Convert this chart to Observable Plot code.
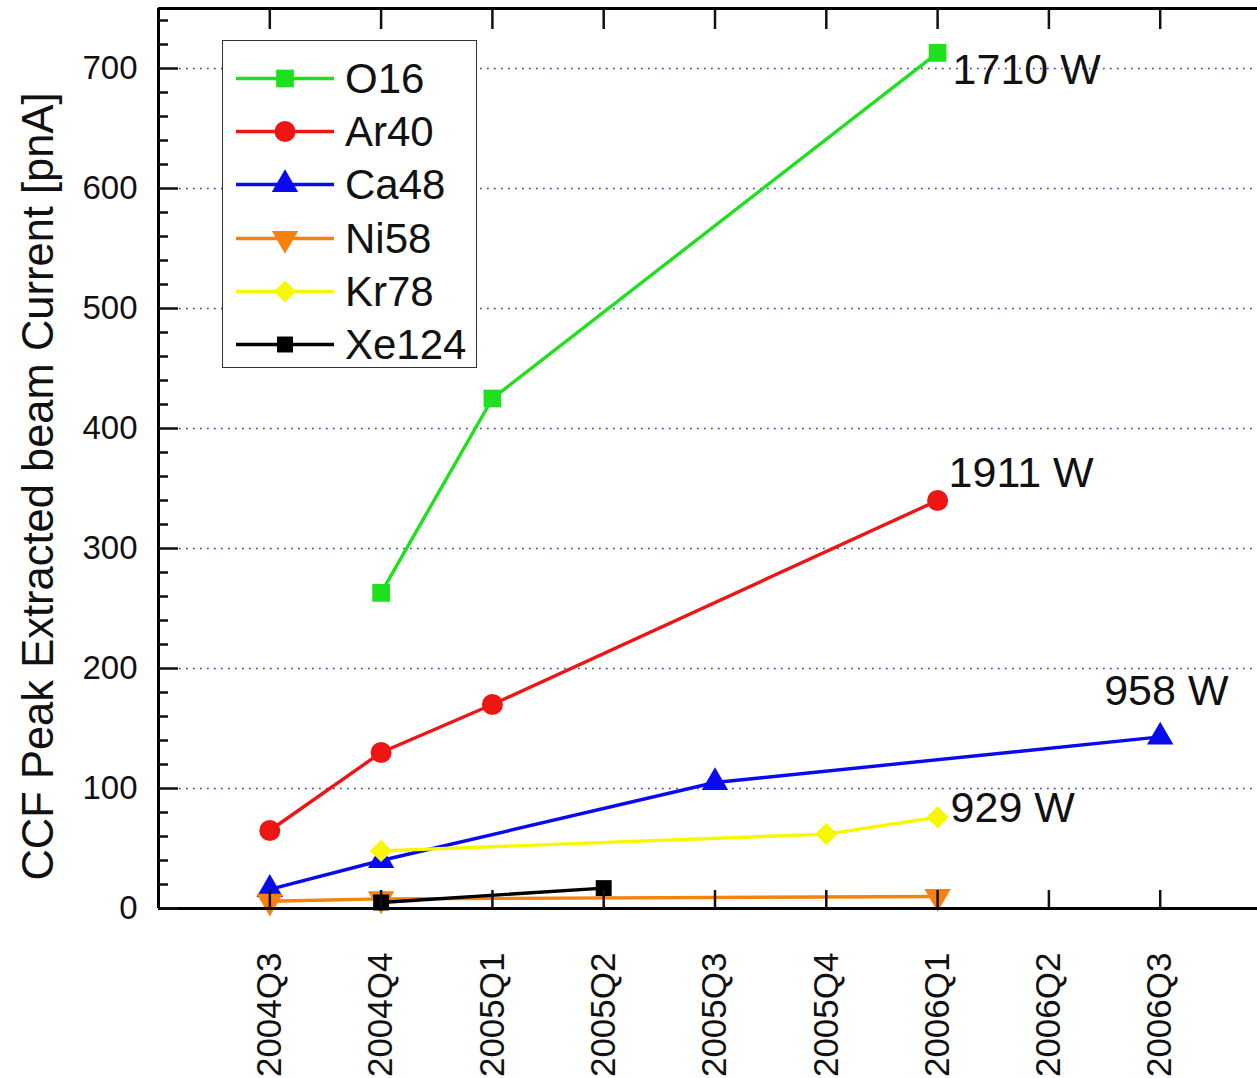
<!DOCTYPE html>
<html>
<head>
<meta charset="utf-8">
<script src="https://cdn.jsdelivr.net/npm/d3@7"></script>
<script src="https://cdn.jsdelivr.net/npm/@observablehq/plot@0.6"></script>
<style>
  html, body { margin: 0; padding: 0; background: #fff; overflow: hidden; }
  #wrap { position: relative; width: 1257px; height: 1078px; font-family: "Liberation Sans", Arial, sans-serif; }
  #legend { position: absolute; left: 222px; top: 40px; width: 253px; height: 326px; border: 1.5px solid #333; background: #fff; }
  #legend .entry { position: absolute; left: 0; width: 253px; height: 53px; }
  #legend svg { position: absolute; left: 12px; top: 0; }
  #legend span { position: absolute; left: 122px; top: 0; line-height: 53px; font-size: 42px; color: #111; }
</style>
</head>
<body>
<div id="wrap"><div id="legend"></div></div>
<script>
// Quarters on the horizontal axis
const quarters = ["2004Q3", "2004Q4", "2005Q1", "2005Q2", "2005Q3", "2005Q4", "2006Q1", "2006Q2", "2006Q3"];

// Peak extracted beam current per ion species [pnA]
const o16Quarters = ["2004Q4", "2005Q1", "2006Q1"];
const o16Values = [263, 425, 713];
const ar40Quarters = ["2004Q3", "2004Q4", "2005Q1", "2006Q1"];
const ar40Values = [65, 130, 170, 340];
const ca48Quarters = ["2004Q3", "2004Q4", "2005Q3", "2006Q3"];
const ca48Values = [16, 40, 105, 143];
const ni58Quarters = ["2004Q3", "2004Q4", "2006Q1"];
const ni58Values = [6, 8, 10];
const kr78Quarters = ["2004Q4", "2005Q4", "2006Q1"];
const kr78Values = [48, 62, 76];
const xe124Quarters = ["2004Q4", "2005Q2"];
const xe124Values = [5, 17];

const seriesNames = ["O16", "Ar40", "Ca48", "Ni58", "Kr78", "Xe124"];

// RF power noted at the last point of some series
const powerSeries = ["O16", "Ar40", "Ca48", "Kr78"];
const powerLabels = ["1710 W", "1911 W", "958 W", "929 W"];

const yTicks = [0, 100, 200, 300, 400, 500, 600, 700];
const yMinorTicks = d3.range(20, 741, 20).filter(v => v % 100 !== 0);

// ---- styling ----
const font = '"Liberation Sans", Arial, sans-serif';
const sqrt3 = Math.sqrt(3);
const triangleDown = {
  draw(context, size) {
    const y = -Math.sqrt(size / (sqrt3 * 3));
    context.moveTo(0, -y * 2);
    context.lineTo(-sqrt3 * y, y);
    context.lineTo(sqrt3 * y, y);
    context.closePath();
  }
};
const seriesStyle = {
  O16:   {color: "#1fe01f", symbol: d3.symbolSquare,   r: 10},
  Ar40:  {color: "#ee1515", symbol: d3.symbolCircle,   r: 10.5},
  Ca48:  {color: "#0a0aee", symbol: d3.symbolTriangle, r: 9.8},
  Ni58:  {color: "#f5820f", symbol: triangleDown,      r: 9.8},
  Kr78:  {color: "#f7f700", symbol: d3.symbolDiamond2, r: 10},
  Xe124: {color: "#000000", symbol: d3.symbolSquare,   r: 9}
};
const noteOffset = {
  O16:  {dx: 15, dy: 17},
  Ar40: {dx: 11, dy: -27},
  Ca48: {dx: -56, dy: -46},
  Kr78: {dx: 13, dy: -9}
};

// ---- table built from the arrays ----
const rawSeries = {
  O16: [o16Quarters, o16Values],
  Ar40: [ar40Quarters, ar40Values],
  Ca48: [ca48Quarters, ca48Values],
  Ni58: [ni58Quarters, ni58Values],
  Kr78: [kr78Quarters, kr78Values],
  Xe124: [xe124Quarters, xe124Values]
};
const rows = {};
for (const name of seriesNames) {
  const [qs, vs] = rawSeries[name];
  rows[name] = qs.map((q, i) => ({series: name, qi: quarters.indexOf(q), value: vs[i]}));
}

const marks = [];
// dotted horizontal grid
marks.push(Plot.ruleY(yTicks.filter(v => v > 0), {stroke: "#3434c8", strokeWidth: 1.7, strokeDasharray: "1.7,5.3"}));

// series lines and symbols
for (const name of seriesNames) {
  const s = seriesStyle[name];
  marks.push(Plot.line(rows[name], {x: "qi", y: "value", stroke: s.color, strokeWidth: 3.4}));
  marks.push(Plot.dot(rows[name], {x: "qi", y: "value", symbol: s.symbol, r: s.r, fill: s.color}));
}

// power annotations
powerSeries.forEach((name, i) => {
  const last = rows[name][rows[name].length - 1];
  marks.push(Plot.text([last], {
    x: "qi", y: "value", text: () => powerLabels[i],
    textAnchor: "start", dx: noteOffset[name].dx, dy: noteOffset[name].dy,
    fontSize: 43, fill: "#111"
  }));
});

// frame lines
marks.push(Plot.ruleX([-1], {stroke: "#000", strokeWidth: 3}));
marks.push(Plot.ruleY([0, 750], {stroke: "#000", strokeWidth: 3}));

// inward ticks
const xIdx = d3.range(quarters.length);
const blank = () => "";
marks.push(Plot.axisY(yTicks, {tickSize: 20, dx: 20, tickFormat: blank, strokeWidth: 2.5, label: null}));
marks.push(Plot.axisY(yMinorTicks, {tickSize: 10, dx: 10, tickFormat: blank, strokeWidth: 2.5, label: null}));
marks.push(Plot.axisX(xIdx, {anchor: "bottom", tickSize: 18, dy: -18, tickFormat: blank, strokeWidth: 2.5, label: null}));
marks.push(Plot.axisX(xIdx, {anchor: "top", tickSize: 20, dy: 20, tickFormat: blank, strokeWidth: 2.5, label: null}));

// tick labels
marks.push(Plot.axisY(yTicks, {tickSize: 0, tickPadding: 21, fontSize: 33, fill: "#111", label: null}));
marks.push(Plot.axisX(xIdx, {anchor: "bottom", tickSize: 0, tickPadding: 44, tickRotate: -90,
  tickFormat: i => quarters[i], fontSize: 35, fill: "#111", label: null}));

// vertical axis title
marks.push(Plot.text(["CCF Peak Extracted beam Current [pnA]"], {
  frameAnchor: "left", text: d => d, rotate: -90, textAnchor: "middle",
  dx: -119, dy: 28, fontSize: 43.5, fill: "#111"
}));

const chart = Plot.plot({
  width: 1257,
  height: 1078,
  marginLeft: 158,
  marginRight: 0,
  marginTop: 8,
  marginBottom: 170,
  x: {domain: [-1, 9], range: [158, 1271], label: null},
  y: {domain: [0, 750], range: [908, 8], label: null},
  style: {fontFamily: font, background: "transparent", color: "#111"},
  marks
});

const wrap = document.getElementById("wrap");
wrap.insertBefore(chart, wrap.firstChild);

// legend box drawn over the plot area
const legend = d3.select("#legend");
seriesNames.forEach((name, i) => {
  const s = seriesStyle[name];
  const entry = legend.append("div").attr("class", "entry").style("top", (11 + i * 53.2) + "px");
  const svg = entry.append("svg").attr("width", 100).attr("height", 53);
  svg.append("line").attr("x1", 1).attr("x2", 99).attr("y1", 26.5).attr("y2", 26.5)
    .attr("stroke", s.color).attr("stroke-width", 3.4);
  svg.append("path").attr("transform", "translate(50,26.5)")
    .attr("d", d3.symbol(s.symbol, s.r * s.r * Math.PI)())
    .attr("fill", s.color);
  entry.append("span").text(name);
});
</script>
</body>
</html>
